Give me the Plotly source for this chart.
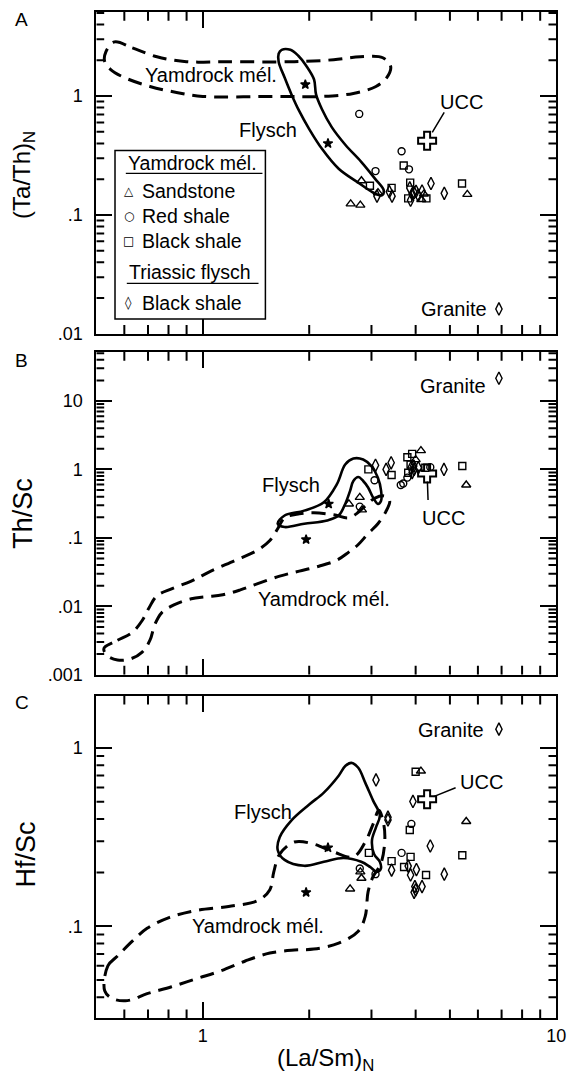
import math
import plotly.graph_objects as go

W, H = 587, 1082
FONT = "Liberation Sans, Arial, sans-serif"

# ---------------- Panel A : (Ta/Th)N vs (La/Sm)N ----------------
A_sand_x = [2.81, 3.13, 2.62, 2.79, 4.15, 4.22, 5.60]
A_sand_y = [0.194, 0.154, 0.124, 0.121, 0.135, 0.150, 0.149]
A_red_x = [2.77, 3.65, 3.83, 3.08]
A_red_y = [0.708, 0.344, 0.242, 0.234]
A_blk_x = [3.70, 2.97, 3.42, 3.86, 3.81, 4.29, 5.41]
A_blk_y = [0.261, 0.176, 0.169, 0.187, 0.138, 0.138, 0.184]
A_tri_x = [3.11, 3.37, 3.43, 3.85, 3.87, 3.96, 4.01, 4.07, 3.91, 4.17, 4.42, 4.82]
A_tri_y = [0.144, 0.157, 0.144, 0.169, 0.133, 0.154, 0.158, 0.146, 0.150, 0.159, 0.184, 0.152]
A_star_x = [1.95, 2.26]
A_star_y = [1.25, 0.40]
A_granite = (6.88, 0.0162)
A_ucc = (4.31, 0.42)
A_flysch_x = [1.672, 1.770, 1.863, 1.961, 2.064, 2.091, 2.173, 2.316, 2.533, 2.806, 3.069, 3.25,
              3.209, 3.03, 2.753, 2.423, 2.173, 2.0, 1.875, 1.782, 1.704, 1.639, 1.639, 1.672]
A_flysch_y = [2.449, 2.449, 2.184, 1.802, 1.378, 1.033, 0.775, 0.548, 0.388, 0.280, 0.202, 0.1606,
              0.146, 0.1546, 0.187, 0.245, 0.360, 0.528, 0.746, 1.033, 1.432, 1.946, 2.269, 2.449]
A_yam_x = [0.563, 0.632, 0.742, 0.899, 1.161, 1.816, 2.346, 2.788, 3.23, 3.40, 3.314, 3.089, 2.666,
           2.20, 1.598, 1.0, 0.843, 0.709, 0.600, 0.549, 0.528, 0.532, 0.563]
A_yam_y = [2.856, 2.546, 2.142, 1.946, 1.946, 1.946, 2.022, 2.142, 2.10, 1.768, 1.432, 1.205, 1.053,
           0.994, 0.994, 0.994, 1.073, 1.205, 1.432, 1.669, 1.946, 2.358, 2.856]

# ---------------- Panel B : Th/Sc vs (La/Sm)N ----------------
B_sand_x = [2.59, 2.78, 2.82, 4.14, 4.00, 5.56]
B_sand_y = [0.313, 0.391, 0.256, 1.88, 1.39, 0.593]
B_red_x = [2.78, 3.06, 3.63, 3.69, 3.79, 4.40]
B_red_y = [0.286, 0.694, 0.593, 0.622, 0.759, 1.08]
B_blk_x = [2.94, 3.42, 3.79, 3.91, 3.87, 3.81, 4.26, 5.42]
B_blk_y = [1.0, 0.827, 1.505, 1.685, 1.18, 0.896, 1.06, 1.12]
B_tri_x = [3.08, 3.41, 3.30, 3.96, 4.07, 4.81, 3.91, 3.88, 3.95]
B_tri_y = [1.15, 1.25, 1.0, 1.0, 1.06, 1.0, 0.90, 1.05, 1.12]
B_star_x = [2.27, 1.96]
B_star_y = [0.313, 0.0945]
B_granite = (6.88, 21.5)
B_ucc = (4.31, 0.87)
B_flysch_x = [1.704, 1.936, 2.20, 2.395, 2.528, 2.666, 2.842, 2.998, 3.128, 3.194, 3.194, 3.128, 3.03,
              2.935, 2.842, 2.753, 2.666, 2.61, 2.528, 2.423, 2.248, 1.936, 1.704, 1.629, 1.704]
B_flysch_y = [0.212, 0.25, 0.331, 0.608, 1.181, 1.441, 1.394, 1.116, 0.759, 0.486, 0.349, 0.313, 0.391,
              0.545, 0.678, 0.774, 0.678, 0.486, 0.313, 0.212, 0.1795, 0.1608, 0.144, 0.161, 0.212]
B_yam_x = [0.528, 0.574, 0.632, 0.674, 0.705, 0.742, 0.816, 0.928, 1.054, 1.237, 1.424, 1.548, 1.629,
           1.704, 1.875, 2.06, 2.346, 2.582, 2.718, 2.88, 3.069, 3.27, 3.378, 3.292, 3.128, 2.935,
           2.753, 2.582, 2.391, 2.131, 1.875, 1.65, 1.424, 1.277, 1.139, 1.021, 0.928, 0.832, 0.766,
           0.732, 0.709, 0.674, 0.624, 0.574, 0.539, 0.525, 0.528]
B_yam_y = [0.00253, 0.00319, 0.00416, 0.0062, 0.00954, 0.0142, 0.01795, 0.0234, 0.0326, 0.047, 0.0656,
           0.0914, 0.136, 0.196, 0.224, 0.232, 0.217, 0.196, 0.224, 0.292, 0.382, 0.408, 0.345, 0.24,
           0.161, 0.1153, 0.08, 0.0614, 0.047, 0.0385, 0.0326, 0.0276, 0.0212, 0.01736, 0.0147, 0.01375,
           0.01288, 0.01055, 0.00809, 0.00543, 0.00319, 0.00214, 0.0017, 0.00164, 0.00187, 0.00229,
           0.00253]

# ---------------- Panel C : Hf/Sc vs (La/Sm)N ----------------
C_sand_x = [4.14, 5.56, 2.79, 2.81, 2.61]
C_sand_y = [0.742, 0.387, 0.202, 0.186, 0.162]
C_red_x = [2.78, 3.08, 3.65, 3.89]
C_red_y = [0.211, 0.196, 0.258, 0.375]
C_blk_x = [4.00, 3.85, 2.95, 3.87, 3.42, 3.71, 4.28, 5.42]
C_blk_y = [0.736, 0.347, 0.258, 0.245, 0.232, 0.215, 0.194, 0.250]
C_tri_x = [3.09, 3.93, 3.34, 3.34, 4.40, 3.42, 3.81, 4.02, 3.87, 4.82, 3.98, 4.17, 4.00, 3.96]
C_tri_y = [0.662, 0.501, 0.409, 0.395, 0.282, 0.2065, 0.2175, 0.208, 0.194, 0.196, 0.167, 0.167, 0.160, 0.155]
C_star_x = [2.26, 1.96]
C_star_y = [0.276, 0.155]
C_granite = (6.88, 1.275)
C_ucc = (4.31, 0.516)
C_flysch_x = [1.782, 2.0, 2.2, 2.423, 2.533, 2.632, 2.753, 2.88, 3.03, 3.168, 3.089, 3.01, 3.05, 3.168,
              3.188, 3.108, 2.972, 2.806, 2.5, 2.2, 1.936, 1.704, 1.629, 1.65, 1.782]
C_flysch_y = [0.393, 0.482, 0.562, 0.699, 0.794, 0.825, 0.774, 0.639, 0.508, 0.419, 0.359, 0.304, 0.254,
              0.23, 0.21, 0.202, 0.2154, 0.23, 0.2416, 0.23, 0.2183, 0.2356, 0.268, 0.316, 0.393]
C_yam_x = [0.528, 0.539, 0.574, 0.632, 0.696, 0.806, 0.958, 1.183, 1.433, 1.548, 1.588, 1.65, 1.816,
           2.06, 2.346, 2.666, 2.88, 3.03, 3.148, 3.25, 3.27, 3.188, 3.03, 2.935, 2.88, 2.753, 2.423,
           2.06, 1.816, 1.548, 1.319, 1.124, 0.958, 0.816, 0.696, 0.612, 0.556, 0.528]
C_yam_y = [0.0435, 0.06, 0.0681, 0.0825, 0.0975, 0.1122, 0.1227, 0.1292, 0.1395, 0.1605, 0.202, 0.254,
           0.2967, 0.289, 0.261, 0.2447, 0.2967, 0.373, 0.447, 0.373, 0.2967, 0.224, 0.1896, 0.1565,
           0.1136, 0.0938, 0.0804, 0.0745, 0.0736, 0.0708, 0.0639, 0.0562, 0.0508, 0.0458, 0.0419,
           0.0383, 0.0393, 0.0435]

# tick labels
X_TICKS = [1, 10]
X_TICKTEXT = ["1", "10"]
A_TICKS, A_TICKTEXT = [0.01, 0.1, 1], [".01", ".1", "1"]
B_TICKS, B_TICKTEXT = [0.001, 0.01, 0.1, 1, 10], [".001", ".01", ".1", "1", "10"]
C_TICKS, C_TICKTEXT = [0.1, 1], [".1", "1"]


def P(px, py):
    return px / W, 1 - py / H


def minor_vals(lo_exp, hi_exp):
    return [m * 10 ** e for e in range(lo_exp, hi_exp + 1) for m in range(2, 10)]


fig = go.Figure()

panels = [
    dict(xa="x", ya="y", d=dict(sand=(A_sand_x, A_sand_y), red=(A_red_x, A_red_y), blk=(A_blk_x, A_blk_y),
                                tri=(A_tri_x, A_tri_y), star=(A_star_x, A_star_y)),
         gran=A_granite, ucc=A_ucc, fly=(A_flysch_x, A_flysch_y), yam=(A_yam_x, A_yam_y)),
    dict(xa="x2", ya="y2", d=dict(sand=(B_sand_x, B_sand_y), red=(B_red_x, B_red_y), blk=(B_blk_x, B_blk_y),
                                  tri=(B_tri_x, B_tri_y), star=(B_star_x, B_star_y)),
         gran=B_granite, ucc=B_ucc, fly=(B_flysch_x, B_flysch_y), yam=(B_yam_x, B_yam_y)),
    dict(xa="x3", ya="y3", d=dict(sand=(C_sand_x, C_sand_y), red=(C_red_x, C_red_y), blk=(C_blk_x, C_blk_y),
                                  tri=(C_tri_x, C_tri_y), star=(C_star_x, C_star_y)),
         gran=C_granite, ucc=C_ucc, fly=(C_flysch_x, C_flysch_y), yam=(C_yam_x, C_yam_y)),
]

SYM = dict(sand=("triangle-up-open", 8), red=("circle-open", 7), blk=("square-open", 7),
           tri=("diamond-tall-open", 9), star=("star", 7))

for p in panels:
    fx, fy = p["yam"]
    fig.add_trace(go.Scatter(x=fx, y=fy, mode="lines", xaxis=p["xa"], yaxis=p["ya"],
                             line=dict(color="black", width=3, dash="14px,8px", shape="spline", smoothing=1.0),
                             hoverinfo="skip", showlegend=False))
    fx, fy = p["fly"]
    fig.add_trace(go.Scatter(x=fx, y=fy, mode="lines", xaxis=p["xa"], yaxis=p["ya"],
                             line=dict(color="black", width=2.6, shape="spline", smoothing=1.0),
                             hoverinfo="skip", showlegend=False))
    for key, (xs, ys) in p["d"].items():
        sym, sz = SYM[key]
        fig.add_trace(go.Scatter(x=xs, y=ys, mode="markers", xaxis=p["xa"], yaxis=p["ya"],
                                 marker=dict(symbol=sym, size=sz, color="black",
                                             line=dict(color="black", width=1.4)),
                                 showlegend=False))
    fig.add_trace(go.Scatter(x=[p["gran"][0]], y=[p["gran"][1]], mode="markers", xaxis=p["xa"], yaxis=p["ya"],
                             marker=dict(symbol="diamond-tall-open", size=9, color="black",
                                         line=dict(color="black", width=1.4)), showlegend=False))
    fig.add_trace(go.Scatter(x=[p["ucc"][0]], y=[p["ucc"][1]], mode="markers", xaxis=p["xa"], yaxis=p["ya"],
                             marker=dict(symbol="cross-open", size=15, color="black",
                                         line=dict(color="black", width=2)), showlegend=False))

# axes
XL, XR = 98, 566
PW = XR - XL
doms = [(12, 337), (355, 681), (702, 1028)]
XRANGE = [math.log10(0.5), 1]
yranges = [[-2, 0.708], [-3, 1.72], [-1.517, 0.294]]
yticks = [(A_TICKS, A_TICKTEXT, minor_vals(-3, 0)), (B_TICKS, B_TICKTEXT, minor_vals(-4, 1)),
          (C_TICKS, C_TICKTEXT, minor_vals(-2, 0))]
X_MINOR = [0.6, 0.7, 0.8, 0.9] + list(range(2, 10))
base = dict(showline=True, linecolor="black", linewidth=2, mirror="ticks", ticks="inside",
            ticklen=16, tickwidth=2, tickcolor="black",
            showgrid=False, zeroline=False, tickfont=dict(family=FONT, size=18, color="black"))


def inside(v, rng):
    lv = math.log10(v)
    return rng[0] + 1e-6 < lv < rng[1] - 1e-6


for i, (top, bot) in enumerate(doms):
    sfx = "" if i == 0 else str(i + 1)
    xid, yid = "x" + sfx, "y" + sfx
    PH = bot - top
    tv, tt, mv = yticks[i]
    yr = yranges[i]
    fig.layout["xaxis" + sfx] = dict(type="log", range=XRANGE, domain=[XL / W, XR / W], anchor=yid,
                                     tickmode="array", tickvals=X_TICKS, ticktext=X_TICKTEXT,
                                     showticklabels=(i == 2), **base)
    fig.layout["yaxis" + sfx] = dict(type="log", range=yr, domain=[1 - bot / H, 1 - top / H],
                                     anchor=xid, tickmode="array", tickvals=tv, ticktext=tt,
                                     ticklabelstandoff=8, **base)
    # intermediate (2..9) inward tick marks on all four sides, drawn as a line trace
    dxp = (XRANGE[1] - XRANGE[0]) / PW   # log units per pixel
    dyp = (yr[1] - yr[0]) / PH
    tx, ty = [], []
    for v in X_MINOR:
        if not inside(v, XRANGE):
            continue
        tx += [v, v, None, v, v, None]
        ty += [10 ** yr[0], 10 ** (yr[0] + 9 * dyp), None, 10 ** yr[1], 10 ** (yr[1] - 9 * dyp), None]
    for v in mv:
        if not inside(v, yr):
            continue
        tx += [10 ** XRANGE[0], 10 ** (XRANGE[0] + 8 * dxp), None,
               10 ** XRANGE[1], 10 ** (XRANGE[1] - 8 * dxp), None]
        ty += [v, v, None, v, v, None]
    fig.add_trace(go.Scatter(x=tx, y=ty, mode="lines", xaxis=xid, yaxis=yid, connectgaps=False,
                             line=dict(color="black", width=2, simplify=False),
                             hoverinfo="skip", showlegend=False))

ann = []


def text(px, py, s, size=20, angle=0, family=FONT, xanchor="center"):
    x, y = P(px, py)
    ann.append(dict(x=x, y=y, xref="paper", yref="paper", text=s, showarrow=False, textangle=angle,
                    xanchor=xanchor, yanchor="middle", font=dict(family=family, size=size, color="black")))


# panel letters and axis titles
text(22, 20, "A", 19)
text(22, 364, "B", 19)
text(22, 709, "C", 19)
text(24, 177, "(Ta/Th)<sub>N</sub>", 24, -90)
text(24, 518, "Th/Sc", 27, -90)
text(26, 863, "Hf/Sc", 27, -90)
text(331, 1069, "(La/Sm)<sub>N</sub>", 24)

# in-plot labels
text(215, 76, "Yamdrock mél.")
text(273, 131, "Flysch")
text(470, 103, "UCC")
text(462, 312, "Granite")
text(461, 390, "Granite")
text(296, 490, "Flysch")
text(330, 605, "Yamdrock mél.")
text(451, 523, "UCC")
text(459, 737, "Granite")
text(268, 820, "Flysch")
text(262, 935, "Yamdrock mél.")
text(490, 789, "UCC")

# UCC leader lines
for (ux, uy), xa, ya, ax, ay, so in [(A_ucc, "x", "y", 18, -30, 10), (B_ucc, "x2", "y2", 1, 28, 8),
                                     (C_ucc, "x3", "y3", 30, -12, 7)]:
    ann.append(dict(x=math.log10(ux), y=math.log10(uy), xref=xa, yref=ya, ax=ax, ay=ay, text="",
                    showarrow=True, arrowhead=0, arrowwidth=1.5, arrowcolor="black", standoff=so))

# legend (panel A)
shapes = [dict(type="rect", xref="paper", yref="paper", x0=117 / W, x1=270 / W, y0=1 - 322 / H,
               y1=1 - 152 / H, line=dict(color="black", width=1.5), fillcolor="white", layer="above")]
text(128, 165, "Yamdrock mél.", 19.5, xanchor="left")
shapes.append(dict(type="line", xref="paper", yref="paper", x0=128 / W, x1=267 / W, y0=1 - 175 / H,
                   y1=1 - 175 / H, line=dict(color="black", width=1.3)))
for py, sym, lab in [(193, "△", "Sandstone"), (218, "○", "Red shale"), (243, "□", "Black shale")]:
    text(131, py, sym, 12, family="DejaVu Sans")
    text(142, py, lab, 19.5, xanchor="left")
text(129, 275, "Triassic flysch", 19.5, xanchor="left")
shapes.append(dict(type="line", xref="paper", yref="paper", x0=129 / W, x1=263 / W, y0=1 - 286 / H,
                   y1=1 - 286 / H, line=dict(color="black", width=1.3)))
text(131, 306, "◊", 13, family="DejaVu Sans")
text(142, 306, "Black shale", 19.5, xanchor="left")

fig.update_layout(width=W, height=H, margin=dict(l=0, r=0, t=0, b=0), paper_bgcolor="white",
                  plot_bgcolor="white", showlegend=False, annotations=ann, shapes=shapes,
                  font=dict(family=FONT, color="black"))
fig.write_html("out.html")
